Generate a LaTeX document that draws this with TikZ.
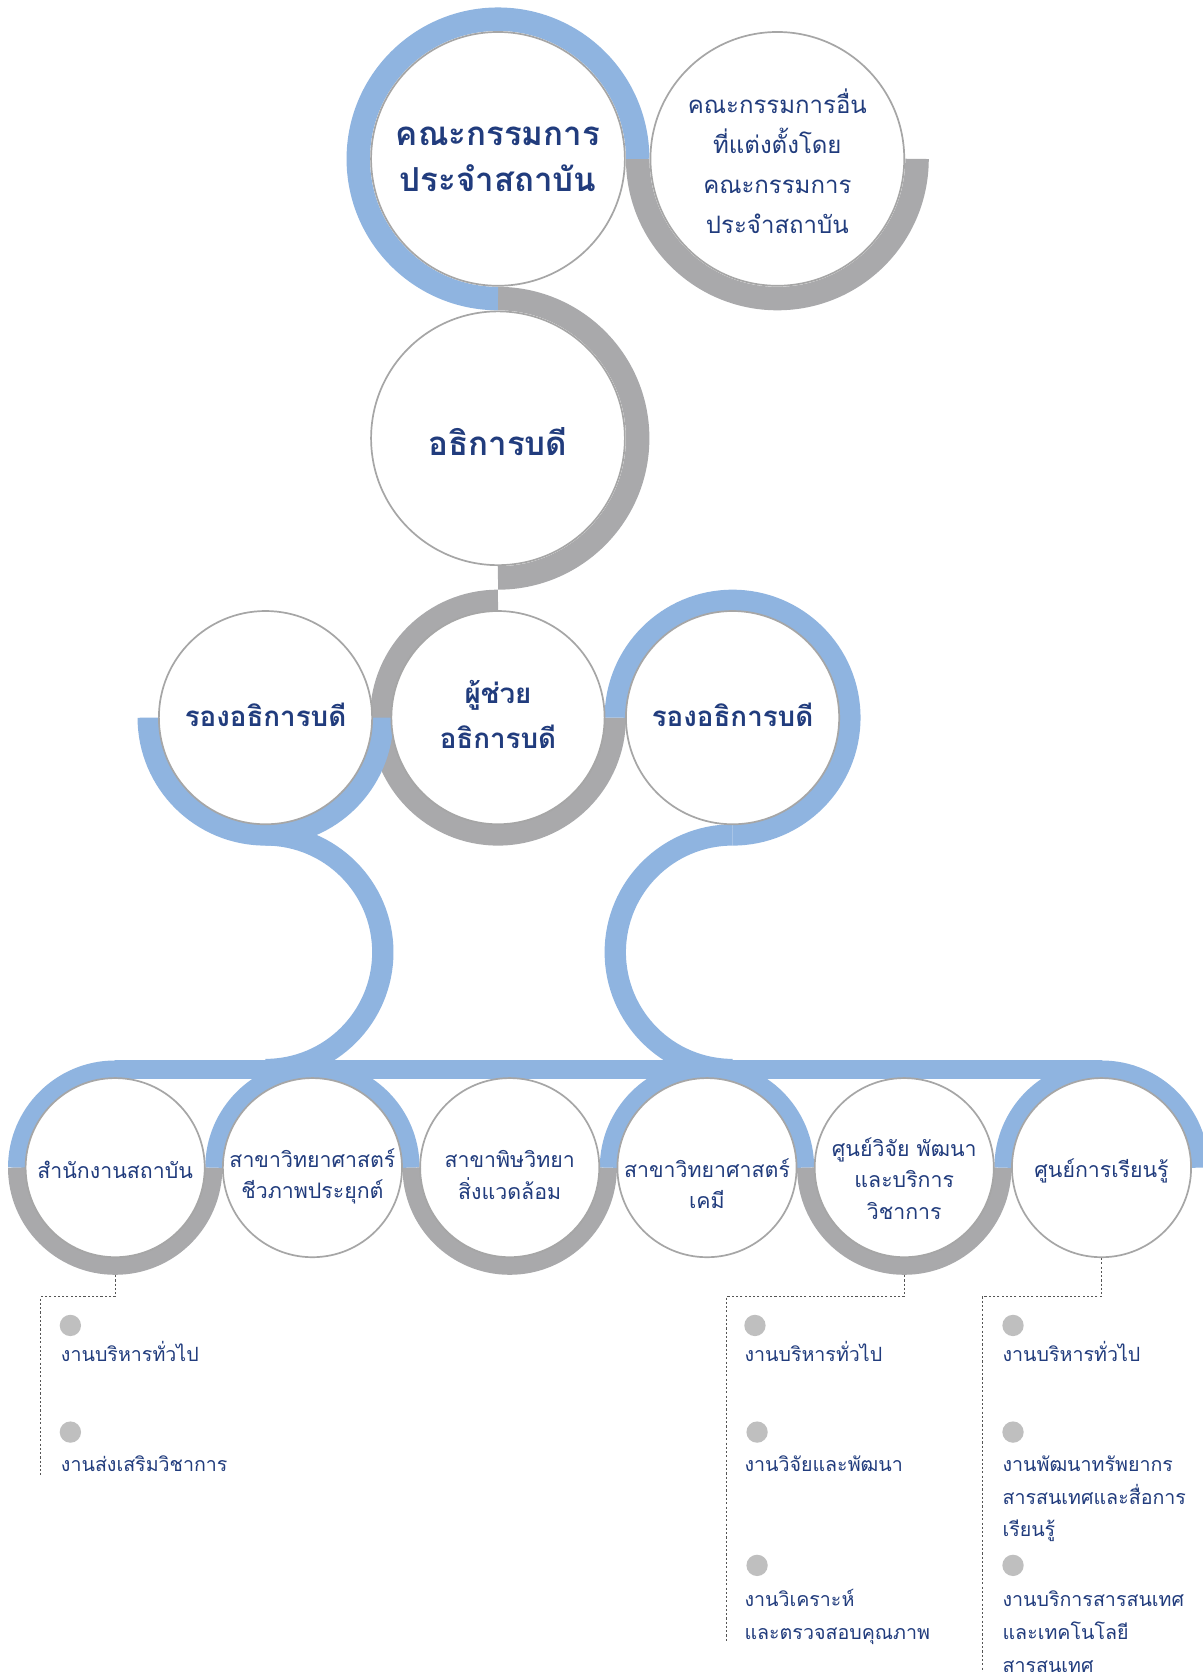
\documentclass[tikz,border=0pt]{standalone}
\usepackage{fontspec}
\newfontfamily\thai[Script=Thai]{Loma}
\usetikzlibrary{calc}
\definecolor{ringblue}{RGB}{143,180,224}
\definecolor{ringgray}{RGB}{169,169,171}
\definecolor{txtblue}{RGB}{33,60,125}
\definecolor{outl}{RGB}{166,166,166}
\definecolor{bul}{RGB}{191,191,191}
\definecolor{dotc}{RGB}{85,85,85}
\begin{document}
\begin{tikzpicture}[x=1pt,y=1pt,
  bring/.style={draw=ringblue,line cap=butt},
  gring/.style={draw=ringgray,line cap=butt},
  wc/.style={circle,draw=outl,line width=1.6pt,fill=white,inner sep=0pt},
  big/.style={wc,minimum size=238pt},
  mid/.style={wc,minimum size=200pt},
  small/.style={wc,minimum size=168pt},
  lbl/.style={text=txtblue,align=center,inner sep=0pt,font=\thai},
  bolda/.style={lbl,font=\thai\bfseries\fontsize{31}{43}\selectfont},
  boldb/.style={lbl,font=\thai\bfseries\fontsize{26}{42}\selectfont},
  regb/.style={lbl,font=\thai\fontsize{22.5}{37.5}\selectfont},
  regc/.style={lbl,font=\thai\fontsize{20}{29.5}\selectfont},
  item/.style={text=txtblue,align=left,inner sep=0pt,anchor=base west,font=\thai\fontsize{18.4}{30.5}\selectfont},
  dot/.style={circle,fill=bul,inner sep=0pt,minimum size=20pt},
  dots/.style={draw=dotc,line width=0.9pt,dash pattern=on 2pt off 2pt}
]
\fill[white] (0,0) rectangle (1128,-1568);
\useasboundingbox (0,0) rectangle (1128,-1568);

% centres
\coordinate (pA) at (467,-149);
\coordinate (pB) at (729,-149);
\coordinate (pC) at (467,-411);
\coordinate (pD) at (467,-673);
\coordinate (pE) at (249,-673);
\coordinate (pF) at (687,-673);
\coordinate (q1) at (108,-1095);
\coordinate (q2) at (293,-1095);
\coordinate (q3) at (478,-1095);
\coordinate (q4) at (663,-1095);
\coordinate (q5) at (848,-1095);
\coordinate (q6) at (1033,-1095);

% anchor-only circles for the connectors
\path (q1) node[small,draw=none,fill=none] (c1) {} (q5) node[small,draw=none,fill=none] (c5) {}
      (q6) node[small,draw=none,fill=none] (c6) {};

% dotted connectors
\coordinate (k1) at (38,-1216);  \coordinate (k1e) at (38,-1383);
\coordinate (k5) at (681,-1216); \coordinate (k5e) at (681,-1540);
\coordinate (k6) at (921,-1216); \coordinate (k6e) at (921,-1568);
\draw[dots] (c1.south) |- (k1) -- (k1e);
\draw[dots] (c5.south) |- (k5) -- (k5e);
\draw[dots] (c6.south) |- (k6) -- (k6e);

% top rings
\draw[gring,line width=22pt] ($(pB)+(-131,0)$) arc[start angle=180,end angle=360,radius=131];
\draw[gring,line width=22pt] ($(pC)+(0,131)$) arc[start angle=90,end angle=-90,radius=131];
\draw[bring,line width=22pt] ($(pA)+(131,0)$) arc[start angle=0,end angle=270,radius=131];
% middle rings
\draw[gring,line width=20pt] ($(pD)+(0,110)$) arc[start angle=90,end angle=360,radius=110];
\draw[bring,line width=20pt] ($(pE)+(-110,0)$) arc[start angle=180,end angle=360,radius=110];
\draw[bring,line width=20pt] ($(pF)+(-110,0)$) arc[start angle=180,end angle=-90,radius=110];
% S curves
\draw[bring,line width=20pt] ($(pE)+(0,-110)$) arc[start angle=90,end angle=-90,radius=110];
\draw[bring,line width=20pt] ($(pF)+(0,-110)$) arc[start angle=90,end angle=270,radius=110];
% bar
\draw[bring,line width=17pt] ($(q1)+(0,92)$) -- ($(q6)+(0,92)$);
% bottom rings
\draw[bring,line width=17pt] ($(q1)+(-92,0)$) arc[start angle=180,end angle=90,radius=92];
\draw[gring,line width=17pt] ($(q1)+(-92,0)$) arc[start angle=180,end angle=360,radius=92];
\draw[bring,line width=17pt] ($(q2)+(-92,0)$) arc[start angle=180,end angle=0,radius=92];
\draw[gring,line width=17pt] ($(q3)+(-92,0)$) arc[start angle=180,end angle=360,radius=92];
\draw[bring,line width=17pt] ($(q4)+(-92,0)$) arc[start angle=180,end angle=0,radius=92];
\draw[gring,line width=17pt] ($(q5)+(-92,0)$) arc[start angle=180,end angle=360,radius=92];
\draw[bring,line width=17pt] ($(q6)+(-92,0)$) arc[start angle=180,end angle=0,radius=92];

% white circles
\node[big] (A) at (pA) {};
\node[big] (B) at (pB) {};
\node[big] (C) at (pC) {};
\node[mid] (D) at (pD) {};
\node[mid] (E) at (pE) {};
\node[mid] (F) at (pF) {};
\node[small] (c1b) at (q1) {};
\node[small] (c2) at (q2) {};
\node[small] (c3) at (q3) {};
\node[small] (c4) at (q4) {};
\node[small] (c5b) at (q5) {};
\node[small] (c6b) at (q6) {};

% labels
\node[bolda] (tA) at ($(pA)+(0,0)$) {คณะกรรมการ\\ประจำสถาบัน};
\node[regb] (tB) at ($(pB)+(0,-2)$) {คณะกรรมการอื่น\\ที่แต่งตั้งโดย\\คณะกรรมการ\\ประจำสถาบัน};
\node[bolda] (tC) at ($(pC)+(0,-3)$) {อธิการบดี};
\node[boldb] (tD) at ($(pD)+(0,3)$) {ผู้ช่วย\\อธิการบดี};
\node[boldb] (tE) at ($(pE)+(0,3)$) {รองอธิการบดี};
\node[boldb] (tF) at ($(pF)+(0,3)$) {รองอธิการบดี};
\node[regc] (t1) at ($(q1)+(0,-2)$) {สำนักงานสถาบัน};
\node[regc] (t2) at ($(q2)+(0,-8)$) {สาขาวิทยาศาสตร์\\ชีวภาพประยุกต์};
\node[regc] (t3) at ($(q3)+(0,-7)$) {สาขาพิษวิทยา\\สิ่งแวดล้อม};
\node[regc] (t4) at ($(q4)+(0,-15)$) {สาขาวิทยาศาสตร์\\เคมี};
\node[regc] (t5) at ($(q5)+(0,-10)$) {ศูนย์วิจัย พัฒนา\\และบริการ\\วิชาการ};
\node[regc] (t6) at ($(q6)+(0,-3)$) {ศูนย์การเรียนรู้};

% list bullets
\node[dot] (d11) at (66,-1243) {};
\node[dot] (d12) at (66,-1343) {};
\node[dot] (d51) at (708,-1243) {};
\node[dot] (d52) at (710,-1343) {};
\node[dot] (d53) at (710,-1468) {};
\node[dot] (d61) at (950,-1243) {};
\node[dot] (d62) at (950,-1343) {};
\node[dot] (d63) at (950,-1468) {};

% list texts (base anchor = last line's baseline)
\node[item] (i11) at (57,-1277) {งานบริหารทั่วไป};
\node[item] (i12) at (57,-1380) {งานส่งเสริมวิชาการ};
\node[item] (i51) at (698,-1277) {งานบริหารทั่วไป};
\node[item] (i52) at (698,-1380) {งานวิจัยและพัฒนา};
\node[item] (i53) at (698,-1537.5) {งานวิเคราะห์\\และตรวจสอบคุณภาพ};
\node[item] (i61) at (940,-1277) {งานบริหารทั่วไป};
\node[item] (i62) at (940,-1441) {งานพัฒนาทรัพยากร\\สารสนเทศและสื่อการ\\เรียนรู้};
\node[item] (i63) at (940,-1568) {งานบริการสารสนเทศ\\และเทคโนโลยี\\สารสนเทศ};
\end{tikzpicture}
\end{document}
